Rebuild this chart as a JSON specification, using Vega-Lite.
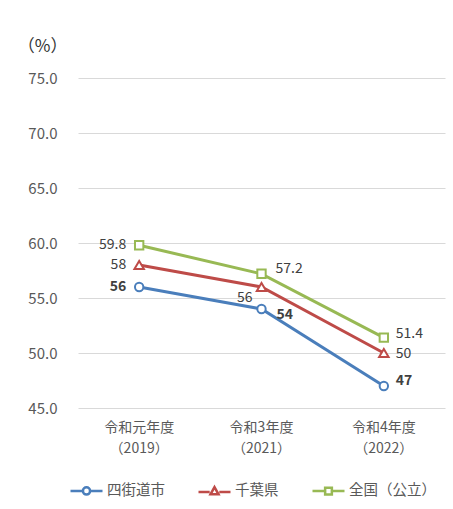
{
  "$schema": "https://vega.github.io/schema/vega-lite/v6.json",
  "autosize": {"type": "none"},
  "width": 367,
  "height": 330,
  "padding": {"left": 78, "top": 78, "right": 8, "bottom": 101},
  "background": "white",
  "config": {
    "font": "Noto Sans CJK JP",
    "view": {"stroke": null},
    "axis": {"labelFont": "Noto Sans CJK JP", "titleFont": "Noto Sans CJK JP"}
  },
  "data": {
    "values": [
      {"series": "四街道市", "year": "令和元年度（2019）", "value": 56},
      {"series": "四街道市", "year": "令和3年度（2021）", "value": 54},
      {"series": "四街道市", "year": "令和4年度（2022）", "value": 47},
      {"series": "千葉県", "year": "令和元年度（2019）", "value": 58},
      {"series": "千葉県", "year": "令和3年度（2021）", "value": 56},
      {"series": "千葉県", "year": "令和4年度（2022）", "value": 50},
      {"series": "全国（公立）", "year": "令和元年度（2019）", "value": 59.8},
      {"series": "全国（公立）", "year": "令和3年度（2021）", "value": 57.2},
      {"series": "全国（公立）", "year": "令和4年度（2022）", "value": 51.4}
    ]
  },
  "encoding": {
    "x": {
      "field": "year", "type": "nominal",
      "sort": ["令和元年度（2019）", "令和3年度（2021）", "令和4年度（2022）"],
      "scale": {"type": "band", "paddingInner": 0, "paddingOuter": 0},
      "axis": {
        "title": null, "domain": false, "ticks": false, "grid": false,
        "labelAngle": 0, "labelFontSize": 14, "labelColor": "#595959",
        "labelPadding": 12, "labelLineHeight": 21,
        "labelExpr": "[slice(datum.label, 0, indexof(datum.label, '（')), slice(datum.label, indexof(datum.label, '（'))]"
      }
    },
    "y": {
      "field": "value", "type": "quantitative",
      "scale": {"domain": [45, 75], "nice": false, "zero": false},
      "axis": {
        "values": [45, 50, 55, 60, 65, 70, 75], "format": ".1f",
        "domain": false, "ticks": false, "labelPadding": 21,
        "labelFontSize": 15, "labelColor": "#595959",
        "gridColor": "#d9d9d9", "gridWidth": 1,
        "title": "（%）", "titleAngle": 0, "titleAlign": "right", "titleBaseline": "middle",
        "titleX": -11, "titleY": -32, "titleFontSize": 17, "titleFontWeight": "normal", "titleColor": "#333333"
      }
    }
  },
  "layer": [
    {
      "mark": {"type": "line", "strokeWidth": 3},
      "encoding": {
        "color": {
          "field": "series", "type": "nominal",
          "scale": {"domain": ["四街道市", "千葉県", "全国（公立）"], "range": ["#4a7ebb", "#be4b48", "#98b954"]},
          "legend": {
            "title": null, "orient": "none", "direction": "horizontal",
            "legendX": -1, "legendY": 403, "padding": 0,
            "symbolSize": 256, "symbolStrokeWidth": 2.5,
            "labelFontSize": 14.5, "labelColor": "#595959", "labelOffset": 11,
            "columnPadding": 28,
            "encode": {
              "symbols": {
                "update": {
                  "fill": {"value": "white"},
                  "strokeWidth": {"value": 2.5},
                  "shape": {"signal": "datum.value === '四街道市' ? 'M-2,0H-0.55M0.55,0H2M0.45,0A0.45,0.45,0,1,1,-0.45,0A0.45,0.45,0,1,1,0.45,0Z' : datum.value === '千葉県' ? 'M-2,0.1H-0.6M0.6,0.1H2M0,-0.5L0.5,0.4L-0.5,0.4Z' : 'M-2,0H-0.5M0.5,0H2M-0.42,-0.42H0.42V0.42H-0.42Z'"}
                }
              }
            }
          }
        }
      }
    },
    {
      "transform": [{"filter": "datum.series === '四街道市'"}],
      "mark": {"type": "point", "shape": "circle", "filled": false, "fill": "white", "fillOpacity": 1, "strokeWidth": 2, "size": 70, "opacity": 1, "stroke": "#4a7ebb"},
      "encoding": {}
    },
    {
      "transform": [{"filter": "datum.series === '千葉県'"}],
      "mark": {"type": "point", "shape": "triangle-up", "filled": false, "fill": "white", "fillOpacity": 1, "strokeWidth": 2, "size": 90, "opacity": 1, "stroke": "#be4b48"},
      "encoding": {}
    },
    {
      "transform": [{"filter": "datum.series === '全国（公立）'"}],
      "mark": {"type": "point", "shape": "square", "filled": false, "fill": "white", "fillOpacity": 1, "strokeWidth": 2, "size": 70, "opacity": 1, "stroke": "#98b954"},
      "encoding": {}
    },
    {
      "transform": [{"filter": "datum.year === '令和元年度（2019）' && datum.series !== '四街道市'"}],
      "mark": {"type": "text", "align": "right", "baseline": "middle", "dx": -13, "fontSize": 14, "color": "#404040"},
      "encoding": {"text": {"field": "value", "type": "quantitative"}}
    },
    {
      "transform": [{"filter": "datum.year === '令和元年度（2019）' && datum.series === '四街道市'"}],
      "mark": {"type": "text", "align": "right", "baseline": "middle", "dx": -13, "fontSize": 14, "fontWeight": "bold", "color": "#404040"},
      "encoding": {"text": {"field": "value", "type": "quantitative"}}
    },
    {
      "transform": [{"filter": "datum.year === '令和3年度（2021）' && datum.series === '四街道市'"}],
      "mark": {"type": "text", "align": "left", "baseline": "middle", "dx": 15, "dy": 6, "fontSize": 14, "fontWeight": "bold", "color": "#404040"},
      "encoding": {"text": {"field": "value", "type": "quantitative"}}
    },
    {
      "transform": [{"filter": "datum.year === '令和3年度（2021）' && datum.series === '千葉県'"}],
      "mark": {"type": "text", "align": "right", "baseline": "middle", "dx": -9, "dy": 11, "fontSize": 14, "color": "#404040"},
      "encoding": {"text": {"field": "value", "type": "quantitative"}}
    },
    {
      "transform": [{"filter": "datum.year === '令和3年度（2021）' && datum.series === '全国（公立）'"}],
      "mark": {"type": "text", "align": "left", "baseline": "middle", "dx": 14, "dy": -5, "fontSize": 14, "color": "#404040"},
      "encoding": {"text": {"field": "value", "type": "quantitative"}}
    },
    {
      "transform": [{"filter": "datum.year === '令和4年度（2022）' && datum.series === '全国（公立）'"}],
      "mark": {"type": "text", "align": "left", "baseline": "middle", "dx": 12, "dy": -4, "fontSize": 14, "color": "#404040"},
      "encoding": {"text": {"field": "value", "type": "quantitative"}}
    },
    {
      "transform": [{"filter": "datum.year === '令和4年度（2022）' && datum.series === '千葉県'"}],
      "mark": {"type": "text", "align": "left", "baseline": "middle", "dx": 12, "dy": 1, "fontSize": 14, "color": "#404040"},
      "encoding": {"text": {"field": "value", "type": "quantitative"}}
    },
    {
      "transform": [{"filter": "datum.year === '令和4年度（2022）' && datum.series === '四街道市'"}],
      "mark": {"type": "text", "align": "left", "baseline": "middle", "dx": 12, "dy": -5, "fontSize": 14, "fontWeight": "bold", "color": "#404040"},
      "encoding": {"text": {"field": "value", "type": "quantitative"}}
    }
  ]
}
